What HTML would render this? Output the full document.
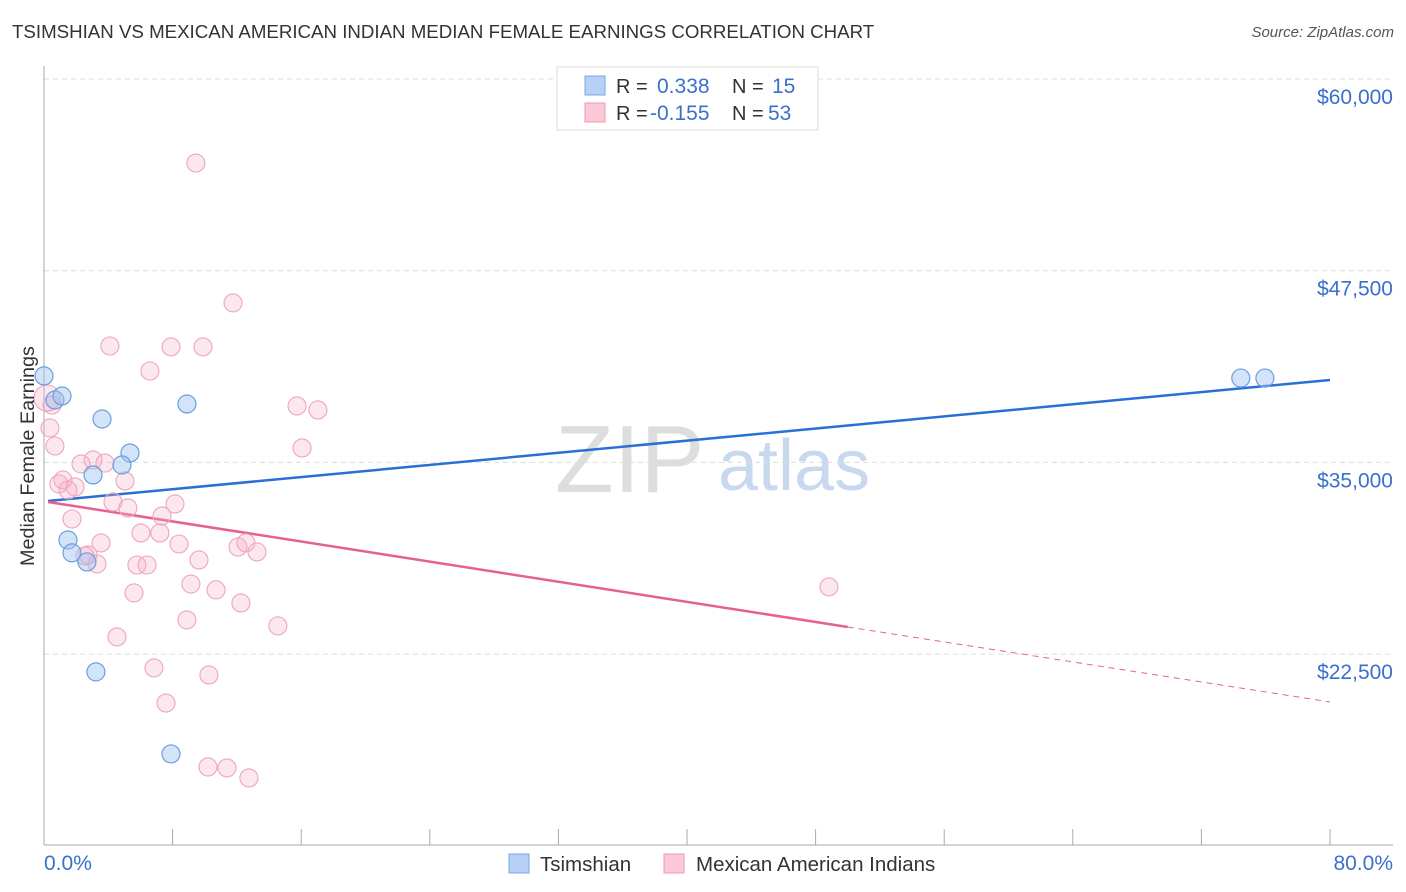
<!DOCTYPE html>
<html><head><meta charset="utf-8">
<style>
body{margin:0;background:#fff;font-family:"Liberation Sans",sans-serif;}
#wrap{position:relative;width:1406px;height:892px;overflow:hidden;}
.title{position:absolute;left:12px;top:21px;font-size:18.7px;color:#333;}
.source{position:absolute;right:12px;top:24px;font-size:15px;color:#555;font-style:italic;}
svg text{font-family:"Liberation Sans",sans-serif;}
</style></head><body>
<div id="wrap">
<div class="title">TSIMSHIAN VS MEXICAN AMERICAN INDIAN MEDIAN FEMALE EARNINGS CORRELATION CHART</div>
<div class="source">Source: ZipAtlas.com</div>
<svg id="svg" width="1406" height="892" style="position:absolute;left:0;top:0">
<text x="555" y="492" font-family="Liberation Serif" font-size="96" fill="#ddd">ZIP</text>
<text x="718" y="490" font-size="72" fill="#c8d8ef">atlas</text>
<g id="grid"></g><g id="axes"></g><g id="lines"></g><g id="pts"></g>
<g>
<rect x="557" y="67" width="261" height="63" fill="#fff" stroke="#ddd"/>
<rect x="585" y="76" width="20" height="19" fill="#b7d0f5" stroke="#7aa6e6"/>
<rect x="585" y="103" width="20" height="19" fill="#fbc8d6" stroke="#ee9ab4"/>
<text x="616" y="93" font-size="20" fill="#333">R = </text><text x="657" y="93" font-size="21" fill="#3a70cc">0.338</text>
<text x="732" y="93" font-size="20" fill="#333">N = </text><text x="772" y="93" font-size="21" fill="#3a70cc">15</text>
<text x="616" y="120" font-size="20" fill="#333">R = </text><text x="650" y="120" font-size="21" fill="#3a70cc">-0.155</text>
<text x="732" y="120" font-size="20" fill="#333">N = </text><text x="768" y="120" font-size="21" fill="#3a70cc">53</text>
</g>
<g>
<rect x="509" y="854" width="20" height="19" fill="#b7d0f5" stroke="#7aa6e6"/>
<text x="540" y="871" font-size="20.5" fill="#333">Tsimshian</text>
<rect x="664" y="854" width="20" height="19" fill="#fbc8d6" stroke="#ee9ab4"/>
<text x="696" y="871" font-size="20.5" fill="#333">Mexican American Indians</text>
</g>
<text x="44" y="870" font-size="21" fill="#3a70cc">0.0%</text>
<text x="1393" y="870" font-size="21" fill="#3a70cc" text-anchor="end">80.0%</text>
<text transform="translate(34,456) rotate(-90)" font-size="19.8" fill="#333" text-anchor="middle">Median Female Earnings</text>
</svg>
</div>
<script>
const yTicks=[60000,47500,35000,22500];
const yTickLabels=["$60,000","$47,500","$35,000","$22,500"];
const xTicks=[0,8,16,24,32,40,48,56,64,72,80];
const blueX=[0,0.68,1.12,3.61,5.35,4.85,3.05,8.89,1.49,1.74,2.67,3.23,7.9,74.45,75.95];
const blueY=[40640,39070,39330,37830,35615,34830,34180,38810,29940,29100,28510,21340,15990,40500,40500];
const pinkX=[9.45,11.76,4.1,7.9,9.89,6.59,15.74,17.04,0.5,0.37,0.68,16.05,3.05,2.3,3.79,1.18,5.04,1.93,1.49,0.93,4.29,5.22,8.15,1.74,7.34,6.03,7.21,3.55,8.4,12.07,12.56,13.25,2.74,3.3,5.78,6.41,9.64,9.14,5.6,10.7,12.25,8.89,14.55,4.54,6.84,10.26,7.59,10.2,11.38,12.75,48.83,2.55,0.19];
const pinkY=[54520,45400,42590,42530,42530,40960,38680,38420,38745,37245,36070,35940,35160,34900,34960,33855,33790,33400,33200,33600,32420,32030,32290,31310,31510,30400,30400,29750,29680,29480,29750,29160,28965,28380,28310,28310,28640,27070,26490,26690,25835,24730,24340,23620,21600,21140,19310,15140,15080,14425,26880,28900,39200];
const blueTrend=[[0.25,32485],[80,40375]];
const pinkTrend=[[0.25,32420],[50,24270]];
const pinkTrendDash=[[50,24270],[80,19380]];
const NS="http://www.w3.org/2000/svg";
const xs=v=>44+v/80*1286;
const ys=v=>79+(60000-v)/12500*191.7;
function mk(tag,attrs,parent){const e=document.createElementNS(NS,tag);for(const k in attrs)e.setAttribute(k,attrs[k]);document.getElementById(parent).appendChild(e);return e;}
yTicks.forEach((t,i)=>{
 const g=mk('line',{x1:44,x2:1393,y1:ys(t),y2:ys(t),stroke:'#ddd','stroke-dasharray':'5,4'},'grid');
 
 
 const l=mk('text',{x:1393,y:ys(t)+25,'text-anchor':'end','font-size':21,fill:'#3a70cc'},'grid');
 l.textContent=yTickLabels[i];
 
 
});
const ax=mk('line',{x1:44,x2:44,y1:66,y2:845,stroke:'#aaa'},'axes');


const bx=mk('line',{x1:44,x2:1393,y1:845,y2:845,stroke:'#aaa'},'axes');


xTicks.forEach(t=>{
 const k=mk('line',{x1:xs(t),x2:xs(t),y1:829,y2:845,stroke:'#aaa'},'axes');
 
 
});
function trend(arr,color,w,dash,name){
 const a={x1:xs(arr[0][0]),y1:ys(arr[0][1]),x2:xs(arr[1][0]),y2:ys(arr[1][1]),stroke:color,'stroke-width':w};
 if(dash)a['stroke-dasharray']=dash;
 const l=mk('line',a,'lines');
 
 
}
pinkX.forEach((x,i)=>{
 const c=mk('circle',{cx:xs(x),cy:ys(pinkY[i]),r:i===52?13:9,fill:'rgba(248,175,198,0.3)',stroke:'#eda5bc','stroke-width':1.1},'pts');
 
 
});
blueX.forEach((x,i)=>{
 const c=mk('circle',{cx:xs(x),cy:ys(blueY[i]),r:9,fill:'rgba(160,195,240,0.45)',stroke:'#6b9de0','stroke-width':1.2},'pts');
 
 
});
trend(blueTrend,'#2a6fd6',2.5,null,'tsimshian-trendline');
trend(pinkTrend,'#e8608e',2.5,null,'mexican-trendline');
trend(pinkTrendDash,'#e8608e',1,'6,5','mexican-trendline-extension');
</script>
</body></html>
